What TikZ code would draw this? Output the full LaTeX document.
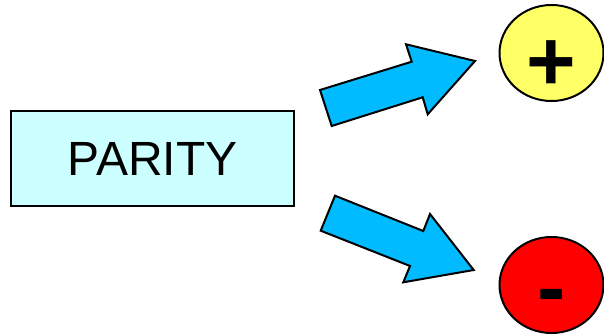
\documentclass[tikz,border=0pt]{standalone}
\usepackage{fontspec}
\setmainfont{Liberation Sans}
\usetikzlibrary{shapes.geometric}
\begin{document}
\begin{tikzpicture}[x=1pt,y=-1pt,
  outl/.style={draw=black,line width=2pt,line join=miter},
  blockarrow/.style={outl,fill=arrowblue},
  sign/.style={font=\fontsize{85}{85}\selectfont\bfseries,inner sep=0pt,anchor=base}]
\definecolor{arrowblue}{HTML}{00BBFF}
\definecolor{boxcyan}{HTML}{CCFFFF}
\definecolor{plusyellow}{HTML}{FFFF66}
\useasboundingbox (0,0) rectangle (604,336);
% PARITY box
\node[outl,fill=boxcyan,minimum width=283pt,minimum height=95pt,inner sep=0pt,
  font=\fontsize{48}{48}\selectfont] (parity) at (152.5,158.5) {PARITY};
% circles
\node[outl,fill=plusyellow,ellipse,minimum width=104pt,minimum height=96pt,inner sep=0pt] (pos) at (551.5,53) {};
\node[outl,fill=red,ellipse,minimum width=104pt,minimum height=96pt,inner sep=0pt] (neg) at (551.5,285) {};
\node[sign] (plus) at (551.5,90.5) {+};
\node[sign] (minus) at (551.5,316) {-};
% upper arrow
\coordinate (u1) at (331.7,126);
\coordinate (u2) at (320,90);
\coordinate (u3) at (411.7,61.7);
\coordinate (u4) at (406,44.3);
\coordinate (u5) at (475,61);
\coordinate (u6) at (427.7,114.3);
\coordinate (u7) at (422.7,97.3);
\draw[blockarrow] (u1) -- (u2) -- (u3) -- (u4) -- (u5) -- (u6) -- (u7) -- cycle;
% lower arrow
\coordinate (l1) at (335,195.7);
\coordinate (l2) at (423.3,231);
\coordinate (l3) at (430,214);
\coordinate (l4) at (473.7,270);
\coordinate (l5) at (403.3,282.3);
\coordinate (l6) at (410,266);
\coordinate (l7) at (320.7,230.7);
\draw[blockarrow] (l1) -- (l2) -- (l3) -- (l4) -- (l5) -- (l6) -- (l7) -- cycle;
\end{tikzpicture}
\end{document}
